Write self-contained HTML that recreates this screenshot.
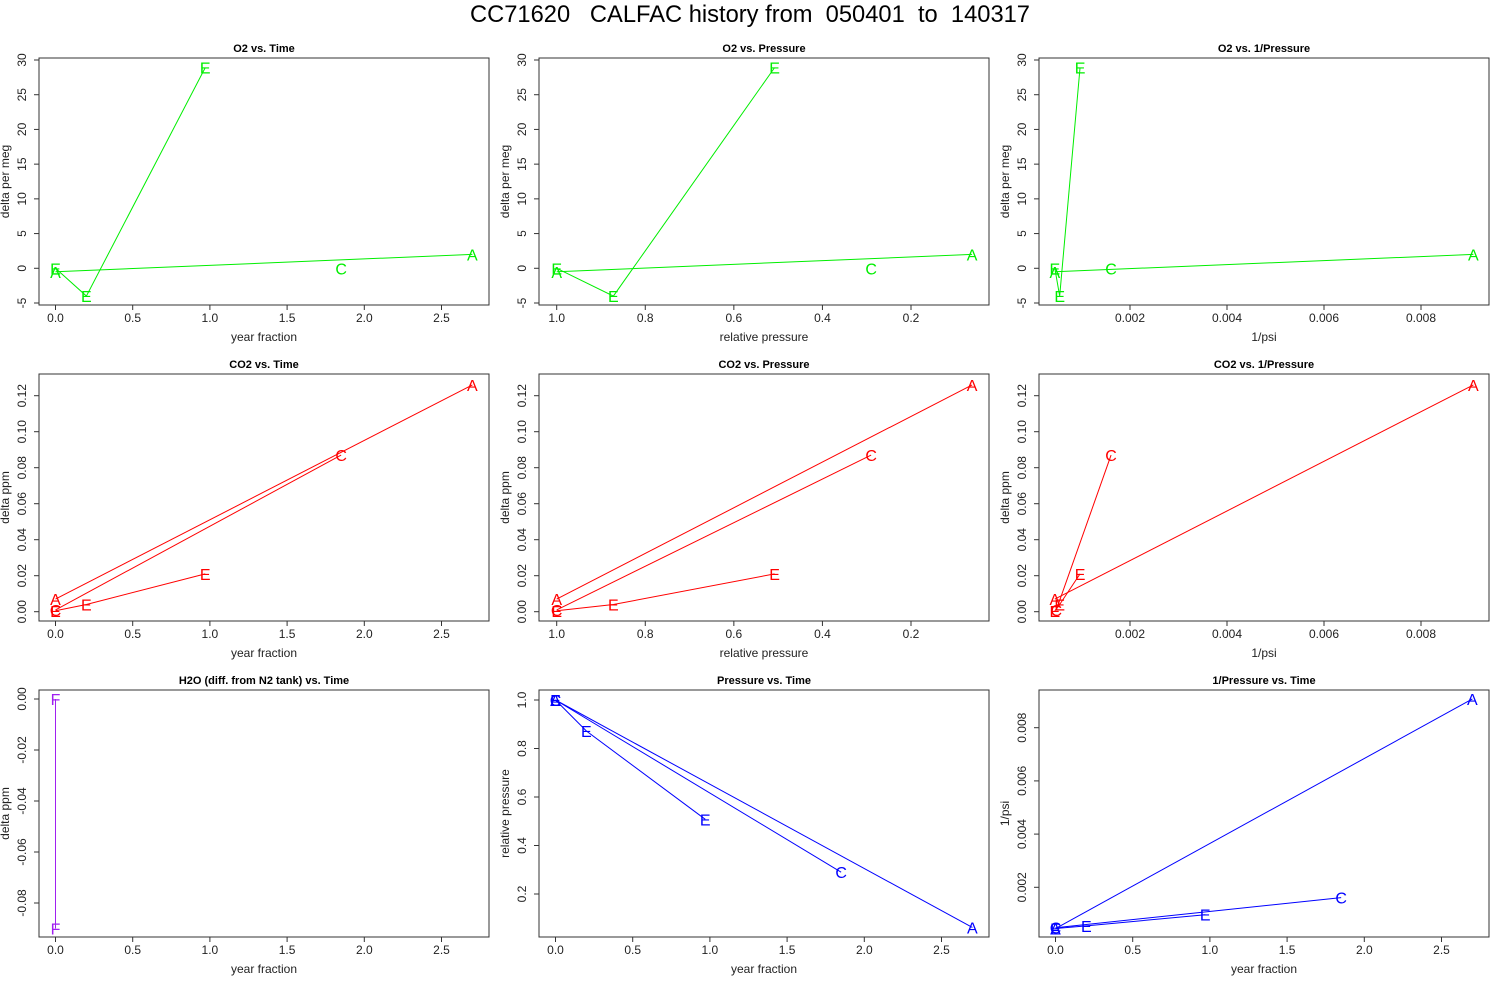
<!DOCTYPE html>
<html><head><meta charset="utf-8"><style>
body{margin:0;background:#fff;}
svg{display:block;font-family:"Liberation Sans",Arial,sans-serif;}
</style></head><body>
<svg id="chart" width="1500" height="1000" viewBox="0 0 1500 1000" xmlns="http://www.w3.org/2000/svg">
<rect width="1500" height="1000" fill="#fff"/>
<text x="750" y="22" text-anchor="middle" font-size="24" style="white-space:pre" xml:space="preserve" textLength="560" lengthAdjust="spacingAndGlyphs">CC71620   CALFAC history from  050401  to  140317</text>
</svg>
<script>
// ---- data ----
const timeA=[0,2.7], timeC=[0,1.85], timeE=[0,0.2,0.97], timeF=[0,0];
const presA=[1,0.062], presC=[1,0.29], presE=[1,0.872,0.508];
const invA=[0.00045,0.00908], invC=[0.00048,0.00161], invE=[0.00045,0.00055,0.00097];
const o2A=[-0.5,2.0], o2C=[null,0.0], o2E=[0,-4,28.9];
const co2A=[0.007,0.126], co2C=[0.001,0.087], co2E=[0.0005,0.004,0.021];
const h2oF=[0,-0.09];
const tickTime=[0,0.5,1,1.5,2,2.5], tickTimeLbl=['0.0','0.5','1.0','1.5','2.0','2.5'];
const tickPres=[1,0.8,0.6,0.4,0.2], tickPresLbl=['1.0','0.8','0.6','0.4','0.2'];
const tickInv=[0.002,0.004,0.006,0.008], tickInvLbl=['0.002','0.004','0.006','0.008'];
const tickO2=[-5,0,5,10,15,20,25,30], tickO2Lbl=['-5','0','5','10','15','20','25','30'];
const tickCO2=[0,0.02,0.04,0.06,0.08,0.1,0.12], tickCO2Lbl=['0.00','0.02','0.04','0.06','0.08','0.10','0.12'];
const tickH2O=[0,-0.02,-0.04,-0.06,-0.08], tickH2OLbl=['0.00','-0.02','-0.04','-0.06','-0.08'];
const tickPresY=[1,0.8,0.6,0.4,0.2], tickPresYLbl=['1.0','0.8','0.6','0.4','0.2'];
const tickInvY=[0.002,0.004,0.006,0.008], tickInvYLbl=['0.002','0.004','0.006','0.008'];

const NS='http://www.w3.org/2000/svg';
const svg=document.getElementById('chart');
function mk(tag,attrs,parent){const e=document.createElementNS(NS,tag);for(const k in attrs)e.setAttribute(k,attrs[k]);(parent||svg).appendChild(e);return e;}
function lin(v0,p0,v1,p1){return v=>p0+(v-v0)*(p1-p0)/(v1-v0);}

const GREEN='#00ee00',RED='#ff0000',BLUE='#0000ff',PURPLE='#a020f0';
const X={time:{m:[0,55.5,2.5,441.5],t:tickTime,l:tickTimeLbl,title:'year fraction'},
 pres:{m:[1,56.7,0.2,411],t:tickPres,l:tickPresLbl,title:'relative pressure'},
 inv:{m:[0.002,130,0.008,421],t:tickInv,l:tickInvLbl,title:'1/psi'}};
const Y={o2:{m:[-5,303,30,60],t:tickO2,l:tickO2Lbl,title:'delta per meg'},
 co2:{m:[0,611.7-316,0.12,395.7-316],t:tickCO2,l:tickCO2Lbl,title:'delta ppm'},
 h2o:{m:[0,699-632,-0.08,903-632],t:tickH2O,l:tickH2OLbl,title:'delta ppm'},
 pres:{m:[1,700-632,0.2,894-632],t:tickPresY,l:tickPresYLbl,title:'relative pressure'},
 inv:{m:[0.002,887.3-632,0.008,727.7-632],t:tickInvY,l:tickInvYLbl,title:'1/psi'}};

const panels=[
 {r:0,c:0,title:'O2 vs. Time',x:'time',y:'o2',col:GREEN,s:[[timeA,o2A,'A'],[timeC,o2C,'C'],[timeE,o2E,'E']]},
 {r:0,c:1,title:'O2 vs. Pressure',x:'pres',y:'o2',col:GREEN,s:[[presA,o2A,'A'],[presC,o2C,'C'],[presE,o2E,'E']]},
 {r:0,c:2,title:'O2 vs. 1/Pressure',x:'inv',y:'o2',col:GREEN,s:[[invA,o2A,'A'],[invC,o2C,'C'],[invE,o2E,'E']]},
 {r:1,c:0,title:'CO2 vs. Time',x:'time',y:'co2',col:RED,s:[[timeA,co2A,'A'],[timeC,co2C,'C'],[timeE,co2E,'E']]},
 {r:1,c:1,title:'CO2 vs. Pressure',x:'pres',y:'co2',col:RED,s:[[presA,co2A,'A'],[presC,co2C,'C'],[presE,co2E,'E']]},
 {r:1,c:2,title:'CO2 vs. 1/Pressure',x:'inv',y:'co2',col:RED,s:[[invA,co2A,'A'],[invC,co2C,'C'],[invE,co2E,'E']]},
 {r:2,c:0,title:'H2O (diff. from N2 tank) vs. Time',x:'time',y:'h2o',col:PURPLE,s:[[timeF,h2oF,'F']]},
 {r:2,c:1,title:'Pressure vs. Time',x:'time',y:'pres',col:BLUE,s:[[timeA,presA,'A'],[timeC,presC,'C'],[timeE,presE,'E']]},
 {r:2,c:2,title:'1/Pressure vs. Time',x:'time',y:'inv',col:BLUE,s:[[timeA,invA,'A'],[timeC,invC,'C'],[timeE,invE,'E']]}
];
panels.forEach((p,i)=>{
 const ox=p.c*500, oy=p.r*316;
 const xa=X[p.x], ya=Y[p.y];
 const fx=lin(xa.m[0],xa.m[1]+ox,xa.m[2],xa.m[3]+ox);
 const ys=lin(ya.m[0],ya.m[1]+oy,ya.m[2],ya.m[3]+oy);
 const L=39+ox,R=489+ox,T=58+oy,B=305+oy;
 const g=mk('g',{});
 
 
 const cp=mk('clipPath',{id:'cp'+i},g); mk('rect',{x:L,y:T,width:R-L,height:B-T},cp);
 const t=mk('text',{x:(L+R)/2,y:T-6,'text-anchor':'middle','font-size':11,'font-weight':'bold'},g);
 
 
 t.textContent=p.title;
 const box=mk('rect',{x:L,y:T,width:R-L,height:B-T,fill:'none',stroke:'#333','stroke-width':1},g);
 
 
 const xg=mk('g',{},g);
 
 
 const xp=xa.t.map(fx);
 mk('line',{x1:Math.min(...xp),x2:Math.max(...xp),y1:B,y2:B,stroke:'#333'},xg);
 xa.t.forEach((v,k)=>{const px=fx(v);mk('line',{x1:px,x2:px,y1:B,y2:B+5,stroke:'#333'},xg);
  const tl=mk('text',{x:px,y:B+17,'text-anchor':'middle','font-size':12,fill:'#222'},xg);
  
  
  tl.textContent=xa.l[k];});
 const xt=mk('text',{x:(L+R)/2,y:B+36,'text-anchor':'middle','font-size':12,fill:'#222'},xg);
 
 
 xt.textContent=xa.title;
 const yg=mk('g',{},g);
 
 
 const yp=ya.t.map(ys);
 mk('line',{x1:L,x2:L,y1:Math.min(...yp),y2:Math.max(...yp),stroke:'#333'},yg);
 ya.t.forEach((v,k)=>{const py=ys(v);mk('line',{x1:L-5,x2:L,y1:py,y2:py,stroke:'#333'},yg);
  const tl=mk('text',{x:0,y:0,'text-anchor':'middle','font-size':12,fill:'#222',transform:`translate(${L-17},${py}) rotate(-90) translate(0,4)`},yg);
  
  
  tl.textContent=ya.l[k];});
 const yt=mk('text',{x:0,y:0,'text-anchor':'middle','font-size':12,fill:'#222',transform:`translate(${ox+9},${(T+B)/2}) rotate(-90)`},yg);
 
 
 yt.textContent=ya.title;
 p.s.forEach(([xv,yv,lab])=>{
  const sg=mk('g',{'clip-path':`url(#cp${i})`},g);
  
  
  const pts=[];
  xv.forEach((x,k)=>{if(yv[k]!==null&&yv[k]!==undefined)pts.push([fx(x),ys(yv[k])]);});
  if(pts.length>1){
   const pl=mk('polyline',{points:pts.map(q=>q.join(',')).join(' '),fill:'none',stroke:p.col,'stroke-width':1},sg);
   
   
  }
  pts.forEach(q=>{const tx=mk('text',{x:q[0],y:q[1]+6,'text-anchor':'middle','font-size':16,fill:p.col},sg);
   
   
   tx.textContent=lab;});
 });
});
</script>
</body></html>
